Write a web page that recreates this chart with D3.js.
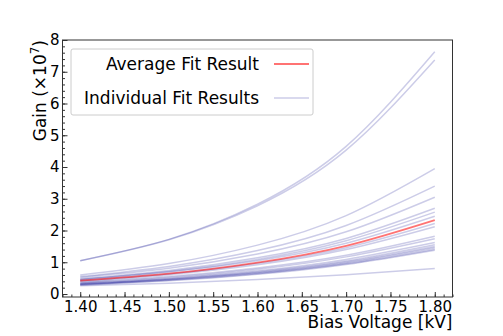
<!DOCTYPE html>
<html>
<head>
<meta charset="utf-8">
<script src="https://cdn.jsdelivr.net/npm/d3@7"></script>
<style>
  body { margin: 0; background: #fff; }
  svg { display: block; font-family: "DejaVu Sans", sans-serif; }
</style>
</head>
<body>
<svg id="chart"></svg>
<script>
var voltages = [1.40, 1.50, 1.60, 1.70, 1.80]

// individual fit results, gain in units of 1e7
var individual = [
    [1.05, 1.72, 2.83, 4.65, 7.63],
    [1.05, 1.71, 2.78, 4.53, 7.37],
    [0.60, 0.96, 1.54, 2.47, 3.95],
    [0.55, 0.87, 1.37, 2.16, 3.40],
    [0.52, 0.81, 1.26, 1.96, 3.05],
    [0.48, 0.74, 1.14, 1.75, 2.70],
    [0.46, 0.71, 1.09, 1.68, 2.58],
    [0.45, 0.69, 1.05, 1.60, 2.45],
    [0.42, 0.64, 0.97, 1.46, 2.22],
    [0.40, 0.61, 0.92, 1.40, 2.12],
    [0.37, 0.55, 0.82, 1.22, 1.82],
    [0.35, 0.52, 0.78, 1.17, 1.74],
    [0.33, 0.49, 0.73, 1.09, 1.62],
    [0.32, 0.47, 0.70, 1.04, 1.55],
    [0.31, 0.46, 0.68, 1.01, 1.50],
    [0.30, 0.45, 0.66, 0.98, 1.46],
    [0.29, 0.43, 0.64, 0.95, 1.41],
    [0.28, 0.42, 0.62, 0.93, 1.38],
    [0.26, 0.34, 0.46, 0.61, 0.80]
]

// average fit result
var average = [0.42, 0.64, 0.99, 1.52, 2.33]

var xTicks = [1.40, 1.45, 1.50, 1.55, 1.60, 1.65, 1.70, 1.75, 1.80]
var yTicks = [0, 1, 2, 3, 4, 5, 6, 7, 8]
var legendLabels = ["Average Fit Result", "Individual Fit Results"]

var width = 503,
    height = 336
var m_left = 62.5, m_right = 452.5, m_top = 40, m_bottom = 297

var svg = d3.select("#chart")
    .attr("width", width)
    .attr("height", height)

var x = d3.scaleLinear().domain([1.38, 1.82]).range([m_left, m_right])
var y = d3.scaleLinear().domain([-0.094, 8]).range([m_bottom, m_top])

var line = d3.line()
    .x(function (d, i) { return x(voltages[i]) })
    .y(function (d) { return y(d) })
    .curve(d3.curveNatural)

// curves
svg.append("g")
    .selectAll("path")
    .data(individual)
    .enter().append("path")
    .attr("d", line)
    .attr("fill", "none")
    .attr("stroke", "#00008b")
    .attr("stroke-opacity", 0.2)
    .attr("stroke-width", 1.5)

svg.append("path")
    .datum(average)
    .attr("d", line)
    .attr("fill", "none")
    .attr("stroke", "#ff0000")
    .attr("stroke-opacity", 0.55)
    .attr("stroke-width", 1.8)

// minor ticks
var xMinor = d3.range(138, 183).map(function (d) { return d / 100 })
var yMinor = d3.range(0, 41).map(function (d) { return d / 5 })

svg.append("g")
    .attr("transform", "translate(0," + m_bottom + ")")
    .call(d3.axisBottom(x).tickValues(xMinor).tickSize(-2.5).tickFormat(""))
    .call(function (g) { g.select(".domain").remove(); g.selectAll("text").remove() })
svg.append("g")
    .attr("transform", "translate(" + m_left + ",0)")
    .call(d3.axisLeft(y).tickValues(yMinor).tickSize(-2.5).tickFormat(""))
    .call(function (g) { g.select(".domain").remove(); g.selectAll("text").remove() })

// major ticks
var xAxis = svg.append("g")
    .attr("transform", "translate(0," + m_bottom + ")")
    .call(d3.axisBottom(x).tickValues(xTicks).tickSize(-5).tickPadding(4).tickFormat(d3.format(".2f")))
xAxis.select(".domain").remove()
xAxis.selectAll("text").attr("font-size", 15).attr("font-family", "DejaVu Sans").attr("fill", "#000")

var yAxis = svg.append("g")
    .attr("transform", "translate(" + m_left + ",0)")
    .call(d3.axisLeft(y).tickValues(yTicks).tickSize(-5).tickPadding(3).tickFormat(d3.format("d")))
yAxis.select(".domain").remove()
yAxis.selectAll("text").attr("font-size", 15).attr("font-family", "DejaVu Sans").attr("fill", "#000")

svg.selectAll(".tick line").attr("stroke", "#333")

// frame
svg.append("rect")
    .attr("x", m_left)
    .attr("y", m_top)
    .attr("width", m_right - m_left)
    .attr("height", m_bottom - m_top)
    .attr("fill", "none")
    .attr("stroke", "#333")
    .attr("stroke-width", 1)

// axis labels
svg.append("text")
    .attr("x", m_right)
    .attr("y", 328)
    .attr("text-anchor", "end")
    .attr("font-size", 17)
    .text("Bias Voltage [kV]")

var yl = svg.append("text")
    .attr("transform", "translate(46," + m_top + ") rotate(-90)")
    .attr("text-anchor", "end")
    .attr("font-size", 17)
yl.append("tspan").text("Gain (×10")
yl.append("tspan").attr("font-size", 12).attr("dy", -7).text("7")
yl.append("tspan").attr("dy", 7).text(")")

// legend
var legend = svg.append("g")
legend.append("rect")
    .attr("x", 71)
    .attr("y", 49)
    .attr("width", 242)
    .attr("height", 66)
    .attr("rx", 2)
    .attr("fill", "#fff")
    .attr("fill-opacity", 0.8)
    .attr("stroke", "#ccc")

var legendStyles = [
    { color: "#ff0000", opacity: 0.55, w: 1.8 },
    { color: "#00008b", opacity: 0.2, w: 1.5 }
]
legend.selectAll("g.item")
    .data(legendLabels)
    .enter().append("g")
    .attr("class", "item")
    .attr("transform", function (d, i) { return "translate(0," + (64 + i * 34) + ")" })
    .each(function (d, i) {
        var g = d3.select(this)
        g.append("text")
            .attr("x", 259)
            .attr("y", 6)
            .attr("text-anchor", "end")
            .attr("font-size", 17)
            .text(d)
        g.append("line")
            .attr("x1", 274).attr("x2", 309)
            .attr("y1", 0).attr("y2", 0)
            .attr("stroke", legendStyles[i].color)
            .attr("stroke-opacity", legendStyles[i].opacity)
            .attr("stroke-width", legendStyles[i].w)
    })
</script>
</body>
</html>
